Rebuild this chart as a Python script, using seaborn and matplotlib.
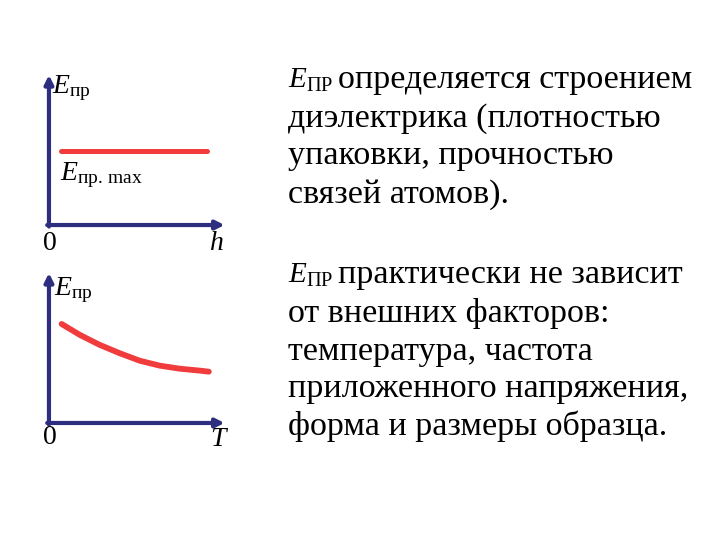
import matplotlib
matplotlib.use("Agg")
import matplotlib.pyplot as plt
import seaborn as sns
import pandas as pd

# data (arbitrary units, axes run 0..10)
h_vals = [0.7, 9.0]
e_max_vals = [4.95, 4.95]

t_vals = [0.72, 1.76, 2.9, 4.03, 5.17, 6.31, 7.44, 8.58, 9.1]
e_t_vals = [6.6, 5.87, 5.2, 4.65, 4.15, 3.82, 3.62, 3.49, 3.42]

text_top = ["определяется строением",
            "диэлектрика (плотностью",
            "упаковки, прочностью",
            "связей атомов)."]
text_bottom = ["практически не зависит",
               "от внешних факторов:",
               "температура, частота",
               "приложенного напряжения,",
               "форма и размеры образца."]

sns.set_style("white")
plt.rcParams['font.family'] = ['Liberation Serif', 'DejaVu Serif']
plt.rcParams['text.color'] = 'black'
plt.rcParams['mathtext.fontset'] = 'custom'
plt.rcParams['mathtext.rm'] = 'Liberation Serif'
plt.rcParams['mathtext.it'] = 'Liberation Serif:italic'

RED = '#f03c3c'
AXIS = '#2e2e80'

fig = plt.figure(figsize=(7.2, 5.4), dpi=100)
ax1 = fig.add_axes([0.068, 0.5833, 0.244, 0.2778])
ax2 = fig.add_axes([0.068, 0.2167, 0.244, 0.2778])

df1 = pd.DataFrame({'h': h_vals, 'E': e_max_vals})
df2 = pd.DataFrame({'T': t_vals, 'E': e_t_vals})
sns.lineplot(data=df1, x='h', y='E', ax=ax1, color=RED, lw=3.6)
sns.lineplot(data=df2, x='T', y='E', ax=ax2, color=RED, lw=4.2)


def arrow_axes(ax):
    ax.set_xlim(0, 10)
    ax.set_ylim(0, 10)
    ax.set_xticks([])
    ax.set_yticks([])
    ax.set_xlabel('')
    ax.set_ylabel('')
    for s in ax.spines.values():
        s.set_visible(False)
    ax.patch.set_alpha(0)
    kw = dict(arrowstyle='-|>,head_length=0.5,head_width=0.25', color=AXIS, lw=3,
              shrinkA=0, shrinkB=0)
    ax.annotate('', xy=(0, 1), xytext=(0, -0.01), xycoords='axes fraction',
                arrowprops=kw, annotation_clip=False)
    ax.annotate('', xy=(1, 0), xytext=(-0.01, 0), xycoords='axes fraction',
                arrowprops=kw, annotation_clip=False)


arrow_axes(ax1)
arrow_axes(ax2)

fs = 20
ax1.text(0.02, 0.91, r"$E_{\mathrm{пр}}$", transform=ax1.transAxes,
         ha='left', va='center', fontsize=fs)
ax1.text(0.06, 0.33, r"$E_{\mathrm{пр.\,max}}$", transform=ax1.transAxes,
         ha='left', va='center', fontsize=fs)
ax1.text(0.006, -0.12, "0", transform=ax1.transAxes, ha='center', va='center', fontsize=fs)
ax1.text(0.955, -0.12, r"$h$", transform=ax1.transAxes, ha='center', va='center', fontsize=fs)

ax2.text(0.03, 0.885, r"$E_{\mathrm{пр}}$", transform=ax2.transAxes,
         ha='left', va='center', fontsize=fs)
ax2.text(0.006, -0.1, "0", transform=ax2.transAxes, ha='center', va='center', fontsize=fs)
ax2.text(0.97, -0.11, r"$T$", transform=ax2.transAxes, ha='center', va='center', fontsize=fs)

# right-hand text: E_ПР in front of the first line of each paragraph
base_top = [88, 127, 164, 203]
base_bottom = [283, 322, 360, 397, 435]
for lines, bases in [(text_top, base_top), (text_bottom, base_bottom)]:
    fig.text(288 / 720, 1 - bases[0] / 540, r"$E_{\mathrm{ПР}}$",
             ha='left', va='baseline', fontsize=21)
    for i, (line, b) in enumerate(zip(lines, bases)):
        x0 = 338 if i == 0 else 288
        fig.text(x0 / 720, 1 - b / 540, line, ha='left', va='baseline', fontsize=24.5)

fig.savefig('out.png', dpi=100)
